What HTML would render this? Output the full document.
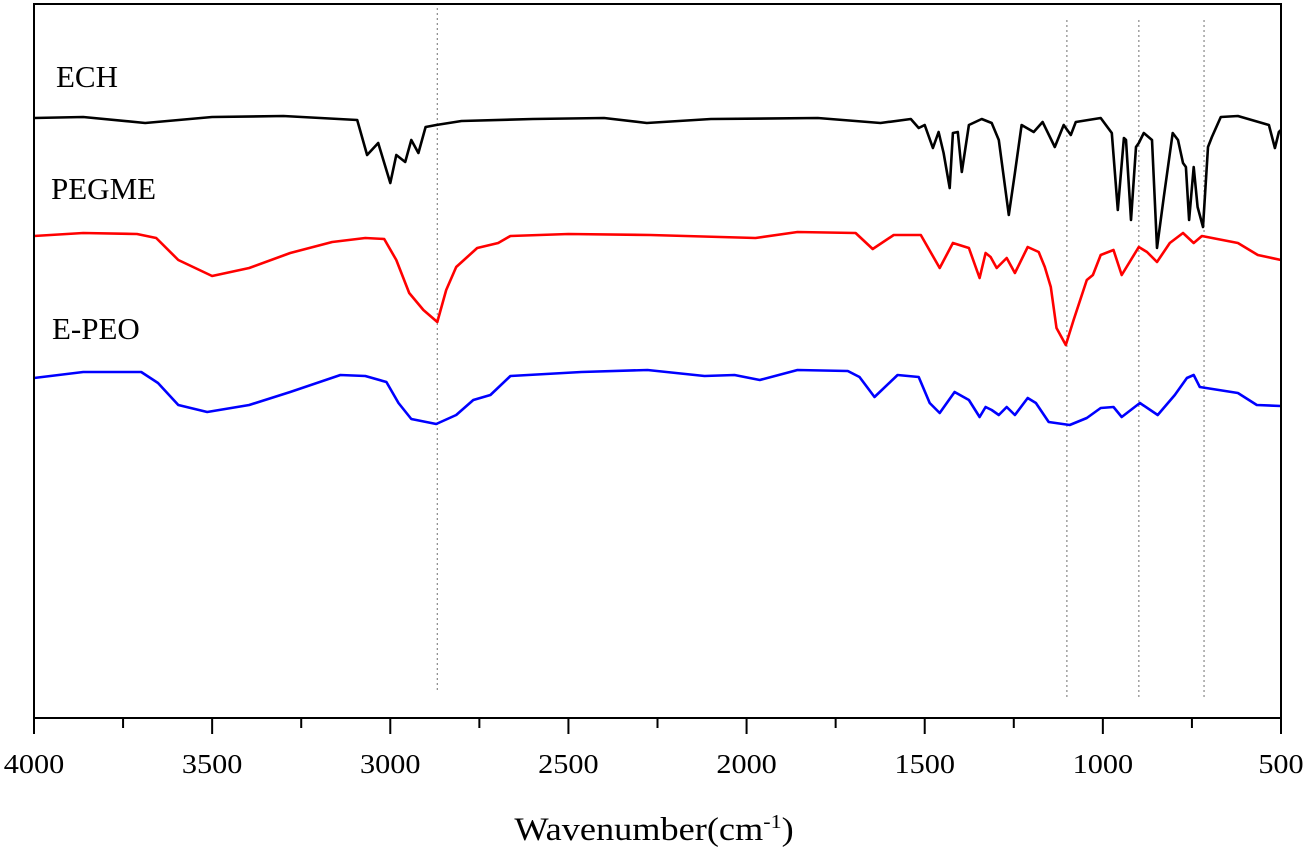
<!DOCTYPE html>
<html><head><meta charset="utf-8"><style>
html,body{margin:0;padding:0;background:#fff;}
svg{display:block;font-family:"Liberation Serif",serif;}
</style></head><body>
<svg id="chart" width="1307" height="852" viewBox="0 0 1307 852" xmlns="http://www.w3.org/2000/svg"></svg>
<script>
// Data (wavenumber cm-1, relative intensity with vertical offset)
const echWave = [4000,3862,3688,3500,3300,3093,3065,3034,3000,2983,2958,2941,2921,2901,2871,2800,2600,2400,2280,2100,1800,1624,1539,1517,1500,1477,1461,1447,1430,1421,1407,1396,1376,1340,1312,1292,1264,1247,1228,1194,1169,1135,1110,1090,1076,1006,975,958,941,935,921,907,899,885,862,848,829,804,789,775,767,758,745,734,719,705,694,669,621,534,517,506,500];
const echVals = [600,601,595,601,602,598,563,575,535,563,556,578,565,591,593,597,599,600,595,599,600,595,599,590,593,570,586,565,530,585,586,546,593,599,595,578,503,545,593,586,596,571,593,583,596,600,585,508,580,578,498,571,575,585,578,470,521,585,578,555,551,498,551,511,491,571,581,601,602,593,570,586,588];
const pegWave = [4000,3862,3711,3657,3595,3500,3396,3281,3163,3070,3017,2983,2947,2907,2868,2843,2815,2756,2697,2663,2500,2270,1975,1857,1694,1646,1587,1511,1458,1421,1376,1346,1329,1315,1298,1270,1247,1211,1180,1163,1146,1130,1104,1082,1045,1028,1006,970,947,899,876,848,812,775,745,722,621,565,500];
const pegVals = [482,485,484,480,458,442,450,465,476,480,479,458,425,408,396,428,451,470,475,482,484,483,480,486,485,469,483,483,450,475,470,440,465,461,450,460,445,471,466,451,431,390,373,398,438,443,463,468,443,471,466,456,475,485,475,482,475,463,458];
const epeoWave = [4000,3862,3699,3652,3595,3514,3396,3281,3140,3070,3011,2977,2941,2871,2815,2767,2719,2663,2464,2278,2118,2034,1963,1857,1716,1683,1641,1576,1517,1486,1458,1416,1376,1346,1329,1312,1292,1270,1247,1211,1188,1152,1093,1045,1006,970,947,896,846,798,764,745,728,621,568,500];
const epeoVals = [340,346,346,335,313,306,313,326,343,342,336,315,299,294,303,318,323,342,346,348,342,343,338,348,347,341,321,343,341,315,305,326,318,301,311,308,303,311,303,320,315,296,293,300,310,311,301,315,303,323,340,343,331,325,313,312];
const xTicks = [4000,3500,3000,2500,2000,1500,1000,500];
const xMinor = [3750,3250,2750,2250,1750,1250,750];
const refLines = [2868,1101,899,716];

const L=34,R=1281,T=4,B=718;
const xS = w => L + (4000-w)/3500*(R-L);
const yS = v => B - v/714*(B-T);
const NS="http://www.w3.org/2000/svg";
const svg=document.getElementById('chart');
function mk(tag,attrs,parent){const e=document.createElementNS(NS,tag);for(const k in attrs)e.setAttribute(k,attrs[k]);(parent||svg).appendChild(e);return e;}

refLines.forEach((w,i)=>{
  const e=mk('line',{x1:xS(w),x2:xS(w),y1:i===0?8:20,y2:i===0?690:700,stroke:'#888','stroke-width':1.2,'stroke-dasharray':'2,3'});
  
  
});

function series(wv,vals,color,name){
  const d=wv.map((w,i)=>(i?'L':'M')+xS(w).toFixed(1)+','+yS(vals[i]).toFixed(1)).join(' ');
  const p=mk('path',{d:d,fill:'none',stroke:color,'stroke-width':2.6,'stroke-linejoin':'round'});
  
  
}
series(echWave,echVals,'#000','ech-spectrum');
series(pegWave,pegVals,'#ff0000','pegme-spectrum');
series(epeoWave,epeoVals,'#0000ff','e-peo-spectrum');

const fr=mk('rect',{x:L,y:T,width:R-L,height:B-T,fill:'none',stroke:'#000','stroke-width':2});



xTicks.forEach(w=>{
  const t=mk('line',{x1:xS(w),x2:xS(w),y1:B,y2:B+16,stroke:'#000','stroke-width':2});
  
  
  const lb=mk('text',{x:xS(w),y:773,'text-anchor':'middle','font-size':27,transform:`translate(${xS(w)},0) scale(1.12,1) translate(${-xS(w)},0)`});
  lb.textContent=w;
  
  
});
xMinor.forEach(w=>{
  const t=mk('line',{x1:xS(w),x2:xS(w),y1:B,y2:B+10,stroke:'#000','stroke-width':2});
  
  
});

[['ECH',56,87,'label-ech'],['PEGME',51,199,'label-pegme'],['E-PEO',52,339,'label-e-peo']].forEach(a=>{
  const t=mk('text',{x:a[1],y:a[2],'font-size':31});
  t.textContent=a[0];
  
  
});

const ti=mk('text',{x:654,y:840,'text-anchor':'middle','font-size':33,transform:'translate(654,0) scale(1.1,1) translate(-654,0)'});
ti.innerHTML='Wavenumber(cm<tspan dy="-12" font-size="20">-1</tspan><tspan dy="12">)</tspan>';


</script>
</body></html>
